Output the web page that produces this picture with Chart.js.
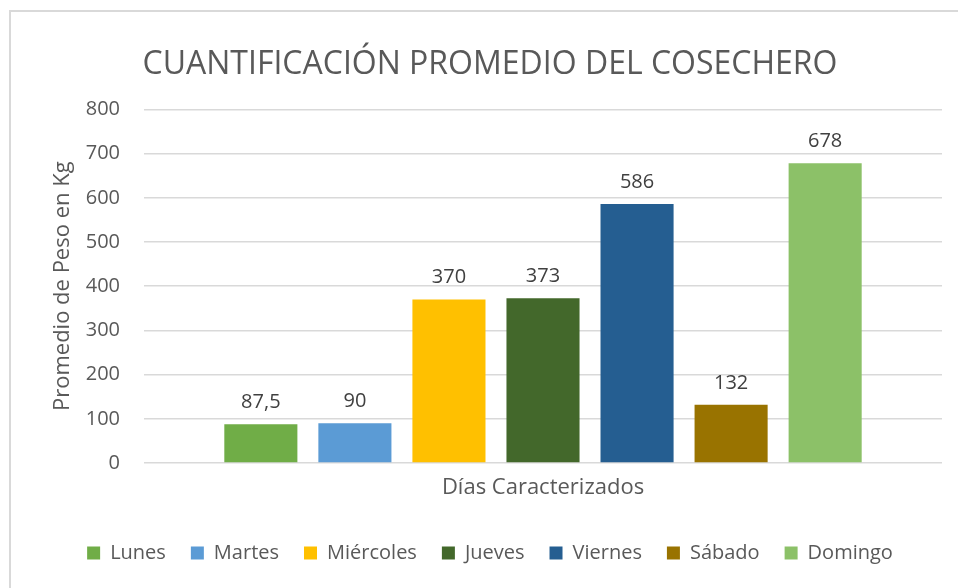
<!DOCTYPE html>
<html>
<head>
<meta charset="utf-8">
<script src="https://cdn.jsdelivr.net/npm/chart.js@4"></script>
<style>
  html, body { margin: 0; padding: 0; background: #fff; }
  #wrap { position: relative; width: 958px; height: 588px; overflow: hidden; }
  #frame { position: absolute; left: 9px; top: 10px; width: 1000px; height: 700px;
           border-left: 2px solid #d9d9d9; border-top: 2px solid #d9d9d9; box-sizing: border-box; }
  canvas { position: absolute; left: 0; top: 0; }
</style>
</head>
<body>
<div id="wrap">
  <div id="frame"></div>
  <canvas id="c" width="958" height="588"></canvas>
</div>
<script>
const titleText = 'CUANTIFICACIÓN PROMEDIO DEL COSECHERO';
const categories = ['Días Caracterizados'];
const seriesNames = ['Lunes', 'Martes', 'Miércoles', 'Jueves', 'Viernes', 'Sábado', 'Domingo'];
const seriesValues = [87.5, 90, 370, 373, 586, 132, 678];
const seriesColors = ['#70AD47', '#5B9BD5', '#FFC000', '#43682B', '#255E91', '#997300', '#8CC168'];
const yTitle = 'Promedio de Peso en Kg';
const yMin = 0, yMax = 800, yStep = 100;

const FONT = "'Open Sans', 'Liberation Sans', sans-serif";

const datasets = seriesNames.map((name, i) => ({
  label: name,
  data: [seriesValues[i]],
  backgroundColor: seriesColors[i],
  borderWidth: 0,
  categoryPercentage: 0.825,
  barPercentage: 0.777
}));

const valueLabels = {
  id: 'valueLabels',
  afterDatasetsDraw(chart) {
    const ctx = chart.ctx;
    ctx.save();
    ctx.font = '20px ' + FONT;
    ctx.fillStyle = '#404040';
    ctx.textAlign = 'center';
    ctx.textBaseline = 'alphabetic';
    chart.data.datasets.forEach((ds, di) => {
      const meta = chart.getDatasetMeta(di);
      meta.data.forEach((bar, j) => {
        const v = ds.data[j];
        const txt = String(v).replace('.', ',');
        ctx.fillText(txt, bar.x, bar.y - 16);
      });
    });
    ctx.restore();
  }
};

new Chart(document.getElementById('c'), {
  type: 'bar',
  data: { labels: categories, datasets },
  plugins: [valueLabels],
  options: {
    responsive: false,
    animation: false,
    layout: { padding: { left: 38, right: 16, top: 0, bottom: 15 } },
    plugins: {
      title: {
        display: true,
        text: titleText,
        color: '#595959',
        font: { family: FONT, size: 32, weight: 'normal', lineHeight: 1.2 },
        padding: { top: 46, bottom: 25 }
      },
      legend: {
        position: 'bottom',
        labels: {
          color: '#595959',
          font: { family: FONT, size: 20 },
          boxWidth: 13,
          boxHeight: 13,
          padding: 25
        }
      },
      tooltip: { enabled: false }
    },
    scales: {
      x: {
        grid: { display: false, drawTicks: false },
        border: { display: false },
        ticks: { color: '#595959', font: { family: FONT, size: 22 }, padding: 12 },
        afterFit(scale) { scale.height = 55; }
      },
      y: {
        min: yMin, max: yMax,
        ticks: { stepSize: yStep, color: '#595959', font: { family: FONT, size: 20 }, padding: 24 },
        grid: { color: '#d9d9d9', lineWidth: 1.5, drawTicks: false },
        border: { display: false },
        title: {
          display: true, text: yTitle, color: '#595959',
          font: { family: FONT, size: 22 }, padding: { top: 12, bottom: 0 }
        },
        afterFit(scale) { scale.width = 106; }
      }
    }
  }
});
</script>
</body>
</html>
